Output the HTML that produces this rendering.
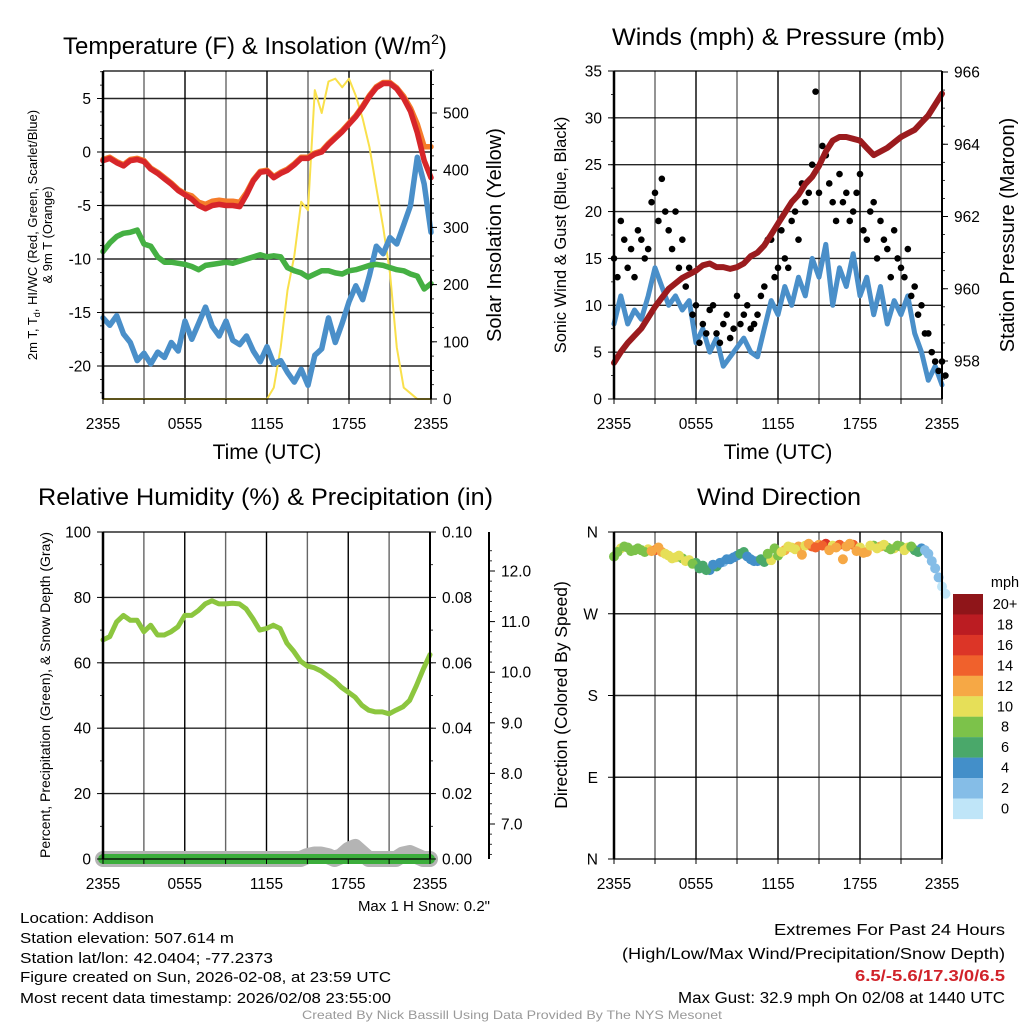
<!DOCTYPE html>
<html><head><meta charset="utf-8"><style>
html,body{margin:0;padding:0;background:#fff;}
svg{display:block;font-family:"Liberation Sans",sans-serif;}
</style></head><body>
<svg id="fig" width="1024" height="1024" viewBox="0 0 1024 1024">
<rect width="1024" height="1024" fill="#fff"/>
<g id="layer"></g>
</svg>
<script>
// ---- data (30-minute steps, 2355 -> 2355) ----
const timeLabels = ["2355","0555","1155","1755","2355"];
const tempF = [-0.8,-0.6,-1.0,-1.3,-0.8,-0.7,-0.9,-1.6,-2.0,-2.5,-3.0,-3.6,-4.0,-4.4,-5.0,-5.3,-5.0,-4.9,-5.0,-5.0,-5.1,-4.0,-2.7,-1.9,-1.8,-2.4,-2.0,-1.7,-1.2,-0.6,-0.6,-0.2,0.0,0.7,1.3,1.9,2.6,3.3,4.2,5.2,6.0,6.4,6.4,5.9,5.0,3.8,1.8,-0.8,-2.4];
const temp9mF = [-0.7,-0.5,-0.9,-1.2,-0.7,-0.6,-0.8,-1.5,-1.9,-2.4,-2.9,-3.5,-3.9,-4.1,-4.7,-4.9,-4.6,-4.5,-4.6,-4.6,-4.7,-3.8,-2.6,-1.8,-1.7,-2.3,-1.9,-1.6,-1.1,-0.5,-0.5,-0.1,0.1,0.8,1.4,2.0,2.7,3.4,4.3,5.3,6.1,6.5,6.5,6.0,5.2,4.1,2.6,0.5,0.5];
const dewF = [-9.3,-8.5,-7.9,-7.6,-7.5,-7.3,-8.6,-8.8,-9.8,-10.3,-10.3,-10.4,-10.5,-10.7,-11.0,-10.6,-10.5,-10.4,-10.3,-10.4,-10.2,-10.0,-9.8,-9.6,-9.8,-9.7,-9.8,-10.8,-11.1,-11.3,-11.7,-11.4,-11.1,-11.1,-11.3,-11.4,-11.1,-11.0,-10.8,-10.6,-10.5,-10.6,-10.8,-11.0,-11.1,-11.4,-11.6,-12.8,-12.3];
const windChillF = [-15.5,-16.2,-15.3,-17.0,-17.8,-19.5,-18.8,-19.8,-18.7,-19.2,-17.8,-18.6,-15.8,-17.5,-16.0,-14.5,-16.3,-17.2,-15.8,-17.6,-18.0,-17.2,-18.6,-19.6,-18.2,-19.8,-19.5,-20.6,-21.5,-20.3,-21.8,-19.0,-18.4,-15.5,-17.8,-16.0,-14.0,-12.5,-13.8,-11.5,-8.8,-9.5,-8.0,-8.6,-6.8,-5.0,-0.5,-3.0,-7.5];
const solarWm2 = [0,0,0,0,0,0,0,0,0,0,0,0,0,0,0,0,0,0,0,0,0,0,0,0,0,20,90,190,250,345,330,540,500,555,560,545,560,530,490,440,370,300,220,90,20,10,0,0,0];
const windMph = [8,11,8,9.5,8.5,11,14,12,10,11,9.5,10.5,6,7.5,5,6.5,3.5,4.5,5.5,6.5,5,4.5,7.5,10.5,9,12,10,13,11,15,13,16.5,10,14,12,15.5,11,13,9,12,8,10.5,9,11,7,5,2,3.5,1.5];
const gustA = [15,19,14,13,17,16,22,23.5,18,20,17,14,10,8,9.5,7,8,6.5,11,9,7.5,9,12,17,14,15,19,17,21,25,22,26,21,24,22,20,24,17,21,19,16,18,14,16,12,10,7,4,4];
const gustB = [13,17,16,18,15,21,19,20,16,14,12,9,6,7,10,6,9,7.5,8,10,8,11,17,13,18,14,20,23,22,32.8,27,23,19,21,19,22,18,20,15,17,13,15,13,11,9,7,5,3,2.5];
const pressureMb = [957.95,958.25,958.5,958.7,958.9,959.2,959.5,959.75,960.0,960.15,960.3,960.4,960.5,960.65,960.7,960.6,960.6,960.55,960.6,960.7,960.9,961.0,961.2,961.5,961.8,962.1,962.4,962.6,962.9,963.1,963.4,963.8,964.1,964.2,964.2,964.15,964.1,963.9,963.7,963.8,963.9,964.05,964.2,964.3,964.4,964.6,964.8,965.1,965.4];
const rhPct = [67,68,72.5,74.5,73,73,69.5,71.5,68.5,68.5,69.5,71,74.5,74.5,76,78,79,78,78,78.2,78,76.5,73.5,70,70.5,71.5,70.5,66,63.5,60.5,59,58.5,57.5,56,54.5,52.5,51,49.5,47,45.5,45,45,44.4,45.5,46.5,48.5,53,58,62.5];
const precipIn = [0,0,0,0,0,0,0,0,0,0,0,0,0,0,0,0,0,0,0,0,0,0,0,0,0,0,0,0,0,0,0,0,0,0,0,0,0,0,0,0,0,0,0,0,0,0,0,0,0];
const snowBump = [0,0,0,0,0,0,0,0,0,0,0,0,0,0,0,0,0,0,0,0,0,0,0,0,0,0,0,0,0,0,1,1.5,1.5,1,0,1,3,4,2,0,0,0,0,0,1.5,2,1,0,0];
const dirA = [333,342,343,340,340,341,340,338,334,332,331,329,326,323,318,322,327,330,334,338,330,328,327,329,334,340,343,344,345,344,346,347,345,346,344,346,343,338,345,344,343,342,344,343,340,342,336,320,300];
const dirB = [338,344,339,342,338,339,343,336,331,334,328,325,320,318,324,326,330,332,336,333,328,330,336,342,338,344,341,335,347,343,345,340,343,330,347,339,337,345,342,346,341,345,340,344,338,340,328,310,292];
const speedBins = ["20+","18","16","14","12","10","8","6","4","2","0"];
const binColors = ["#8f1519","#bb1c22","#dc3527","#f0612c","#f6a845","#e6df58","#7cc24a","#4aa86a","#438fc9","#85bde7","#bfe5f8"];

const NS="http://www.w3.org/2000/svg";
const layer=document.getElementById('layer');
function mk(tag,attrs,parent){const e=document.createElementNS(NS,tag);for(const k in attrs)e.setAttribute(k,attrs[k]);(parent||layer).appendChild(e);return e;}
function txt(s,x,y,size,anchor,extra,parent){const e=mk('text',Object.assign({x:x,y:y,'font-size':size,'text-anchor':anchor||'middle',fill:'#000'},extra||{}),parent);e.textContent=s;return e;}
const N=tempF.length;
function panelX(L,R){return i=>L+(R-L)*i/(N-1);}
function lin(v0,p0,v1,p1){return v=>p0+(v-v0)*(p1-p0)/(v1-v0);}
function line(xs,ys,arr,stroke,w,name,g){const pts=arr.map((v,i)=>xs(i).toFixed(1)+','+ys(v).toFixed(1)).join(' ');const p=mk('polyline',{points:pts,fill:'none',stroke:stroke,'stroke-width':w,'stroke-linejoin':'round','stroke-linecap':'round'},g);return p;}

function frame(L,T,R,B,vgrid,hvals,ys,g){
  vgrid.forEach((x,k)=>{const l=mk('line',{x1:x,y1:T,x2:x,y2:B,stroke:k%2?'#666':'#000','stroke-width':1.4},g);});
  hvals.forEach(v=>{const y=ys(v);const l=mk('line',{x1:L,y1:y,x2:R,y2:y,stroke:'#000','stroke-width':1.4,'stroke-opacity':0.85},g);});
}
function axisBox(L,T,R,B,g){
  mk('line',{x1:L,y1:T,x2:L,y2:B,stroke:'#000','stroke-width':2.5},g);
  mk('line',{x1:R,y1:T,x2:R,y2:B,stroke:'#000','stroke-width':2},g);
  mk('line',{x1:L,y1:T,x2:R,y2:T,stroke:'#000','stroke-width':1.2},g);
  mk('line',{x1:L,y1:B,x2:R,y2:B,stroke:'#000','stroke-width':1.2},g);
}
function xTicks(L,R,B,g){
  for(let k=0;k<=8;k++){const x=L+(R-L)*k/8;mk('line',{x1:x,y1:B,x2:x,y2:B+5,stroke:'#000','stroke-width':1},g);}
  timeLabels.forEach((s,k)=>{const t=txt(s,L+(R-L)*k/4,B+30,15.5,'middle',{},g);});
}
function yTicks(x,dir,vals,ys,fmt,minor,g,name){
  vals.forEach(v=>{const y=ys(v);mk('line',{x1:x,y1:y,x2:x+dir*6,y2:y,stroke:'#000','stroke-width':1},g);
    const t=txt(fmt(v),x+dir*12,y+5.5,15.5,dir<0?'end':'start',{},g);});
  minor.forEach(v=>{const y=ys(v);mk('line',{x1:x,y1:y,x2:x+dir*3,y2:y,stroke:'#000','stroke-width':0.8},g);});
}
function grp(name){const g=mk('g',{});return g;}
function range(a,b,s){const r=[];for(let v=a;v<=b+1e-9;v+=s)r.push(+v.toFixed(4));return r;}

// ===== Panel 1: temperature =====
(function(){
  const L=103,R=431,T=71,B=399;const g=grp('temperature-panel');
  const xs=panelX(L,R);const yT=lin(0,152,-20,366);const yS=lin(0,399,500,113);
  const vg=range(0,8,1).map(k=>L+(R-L)*k/8);
  frame(L,T,R,B,vg,[5,0,-5,-10,-15,-20],yT,g);
  const sl=line(xs,yS,solarWm2,'#f9e04b',2,'',g);
  const wc=line(xs,yT,windChillF,'#4a8fc9',5.5,'',g);
  const dw=line(xs,yT,dewF,'#45b043',5.5,'',g);
  const t9=line(xs,yT,temp9mF,'#f57c2a',5.5,'',g);
  const t2=line(xs,yT,tempF,'#d7262a',5.5,'',g);
  axisBox(L,T,R,B,g);
  yTicks(L,-1,[5,0,-5,-10,-15,-20],yT,v=>String(v),range(-22.5,7.5,1.25),g,'temp-tick-label');
  yTicks(R,1,[0,100,200,300,400,500],yS,v=>String(v),range(0,575,25),g,'solar-tick-label');
  xTicks(L,R,B,g);
  const tt=txt('Temperature (F) & Insolation (W/m',63,54,24,'start',{},g);
  const sup=mk('tspan',{dy:-10,'font-size':14},tt);sup.textContent='2';const cl=mk('tspan',{dy:10},tt);cl.textContent=')';
  
  const xt=txt('Time (UTC)',267,459,21,'middle',{},g);
  const yl=txt('2m T, T',0,0,13,'middle',{transform:'translate(37,235) rotate(-90)'},g);
  const s1=mk('tspan',{dy:3,'font-size':9},yl);s1.textContent='d';const s2=mk('tspan',{dy:-3},yl);s2.textContent=', HI/WC (Red, Green, Scarlet/Blue)';
  
  const yl2=txt('& 9m T (Orange)',0,0,13,'middle',{transform:'translate(52,235) rotate(-90)'},g);
  const yr=txt('Solar Insolation (Yellow)',0,0,20,'middle',{transform:'translate(501,235) rotate(-90)'},g);
})();

// ===== Panel 2: winds & pressure =====
(function(){
  const L=614,R=942,T=71,B=399;const g=grp('winds-panel');
  const xs=panelX(L,R);const yW=lin(0,399,35,71);const yP=lin(958,361,966,72);
  const vg=range(0,8,1).map(k=>L+(R-L)*k/8);
  frame(L,T,R,B,vg,[5,10,15,20,25,30],yW,g);
  const wl=line(xs,yW,windMph,'#4a8fc9',5,'',g);
  gustA.forEach((v,i)=>{const c=mk('circle',{cx:xs(i),cy:yW(v),r:3.3,fill:'#000'},g);});
  gustB.forEach((v,i)=>{const c=mk('circle',{cx:xs(i+0.5),cy:yW(v),r:3.3,fill:'#000'},g);});
  const pl=line(xs,yP,pressureMb,'#9b1b1e',6,'',g);
  axisBox(L,T,R,B,g);
  yTicks(L,-1,[0,5,10,15,20,25,30,35],yW,v=>String(v),range(0,35,2.5),g,'wind-tick-label');
  yTicks(R,1,[958,960,962,964,966],yP,v=>String(v),range(957.5,966,0.5),g,'pressure-tick-label');
  xTicks(L,R,B,g);
  const tt=txt('Winds (mph) & Pressure (mb)',612,45,24,'start',{textLength:333,lengthAdjust:'spacingAndGlyphs'},g);
  const xt=txt('Time (UTC)',778,459,21,'middle',{},g);
  const yl=txt('Sonic Wind & Gust (Blue, Black)',0,0,16.5,'middle',{transform:'translate(566,235) rotate(-90)'},g);
  const yr=txt('Station Pressure (Maroon)',0,0,20,'middle',{transform:'translate(1014,235) rotate(-90)'},g);
})();

// ===== Panel 3: RH & precip =====
(function(){
  const L=103,R=430,T=532,B=859;const g=grp('humidity-panel');
  const xs=panelX(L,R);const yH=lin(0,859,100,532);const yPr=lin(0,859,0.1,532);const ySn=lin(7,824,12,571);
  const vg=range(0,8,1).map(k=>L+(R-L)*k/8);
  frame(L,T,R,B,vg,[20,40,60,80],yH,g);
  const sb=mk('polyline',{points:snowBump.map((v,i)=>xs(i).toFixed(1)+','+(B-v*3).toFixed(1)).join(' '),fill:'none',stroke:'#b4b4b4','stroke-width':16,'stroke-linejoin':'round','stroke-linecap':'round'},g);
  
  const pr=line(xs,yPr,precipIn,'#3cae3c',10,'',g);
  const rh=line(xs,yH,rhPct,'#8cc63f',5,'',g);
  axisBox(L,T,R,B,g);
  yTicks(L,-1,[0,20,40,60,80,100],yH,v=>String(v),range(0,100,10),g,'rh-tick-label');
  yTicks(R,1,[0,0.02,0.04,0.06,0.08,0.1],yPr,v=>v.toFixed(2),range(0,0.1,0.01),g,'precip-tick-label');
  mk('line',{x1:489,y1:T,x2:489,y2:B,stroke:'#000','stroke-width':2},g);
  yTicks(489,1,[7,8,9,10,11,12],ySn,v=>v.toFixed(1),range(6.4,12.4,0.2),g,'snow-tick-label');
  xTicks(L,R,B,g);
  const tt=txt('Relative Humidity (%) & Precipitation (in)',38,505,24,'start',{textLength:455,lengthAdjust:'spacingAndGlyphs'},g);
  const yl=txt('Percent, Precipitation (Green), & Snow Depth (Gray)',0,0,14,'middle',{transform:'translate(50,695) rotate(-90)'},g);
  const sn=txt('Max 1 H Snow: 0.2"',490,911,15,'end',{},g);
})();

// ===== Panel 4: wind direction =====
(function(){
  const L=614,R=942,T=532,B=859;const g=grp('wind-direction-panel');
  const xs=panelX(L,R);const yD=lin(0,859,360,532);
  const vg=range(0,8,1).map(k=>L+(R-L)*k/8);
  frame(L,T,R,B,vg,[90,180,270],yD,g);
  function col(s){let b=Math.floor(s/2);if(b>10)b=10;return binColors[10-b];}
  dirA.forEach((v,i)=>{const c=mk('circle',{cx:xs(i),cy:yD(v),r:5,fill:col(windMph[i])},g);});
  dirB.forEach((v,i)=>{const s=i<N-1?(windMph[i]+windMph[i+1])/2:windMph[i];const c=mk('circle',{cx:xs(i+0.5),cy:yD(v),r:5,fill:col(s)},g);});
  axisBox(L,T,R,B,g);
  const lbl=["N","E","S","W","N"];
  [0,90,180,270,360].forEach((v,k)=>{const y=yD(v);mk('line',{x1:L,y1:y,x2:L-6,y2:y,stroke:'#000'},g);const t=txt(lbl[k],L-16,y+5.5,15.5,'end',{},g);});
  xTicks(L,R,B,g);
  const tt=txt('Wind Direction',697,505,24,'start',{textLength:164,lengthAdjust:'spacingAndGlyphs'},g);
  const yl=txt('Direction (Colored By Speed)',0,0,17.5,'middle',{transform:'translate(567,695) rotate(-90)'},g);
  const cb=grp('speed-colorbar');
  const u=txt('mph',1005,587,14.5,'middle',{},cb);
  speedBins.forEach((s,k)=>{const y=594+k*20.45;const r=mk('rect',{x:953,y:y,width:30,height:20.6,fill:binColors[k]},cb);
    const t=txt(s,1005,y+15,14.5,'middle',{},cb);});
})();

// ===== footer text =====
(function(){
  const g=grp('info-text');
  const left=[["Location: Addison",923,134],["Station elevation: 507.614 m",943,214],["Station lat/lon: 42.0404; -77.2373",963,253],["Figure created on Sun, 2026-02-08, at 23:59 UTC",982,371],["Most recent data timestamp: 2026/02/08 23:55:00",1003,371]];
  left.forEach(a=>{const t=txt(a[0],20,a[1],15,'start',{textLength:a[2],lengthAdjust:'spacingAndGlyphs'},g);});
  const right=[["Extremes For Past 24 Hours",935,231,{}],["(High/Low/Max Wind/Precipitation/Snow Depth)",959,383,{}],["6.5/-5.6/17.3/0/6.5",981,150,{fill:'#d1232a','font-weight':'bold'}],["Max Gust: 32.9 mph On 02/08 at 1440 UTC",1003,327,{}]];
  right.forEach(a=>{const t=txt(a[0],1005-a[2],a[1],15.5,'start',Object.assign({textLength:a[2],lengthAdjust:'spacingAndGlyphs'},a[3]),g);});
  const f=txt('Created By Nick Bassill Using Data Provided By The NYS Mesonet',302,1019,12,'start',{fill:'#999',textLength:420,lengthAdjust:'spacingAndGlyphs'},g);
})();
</script>
</body></html>
